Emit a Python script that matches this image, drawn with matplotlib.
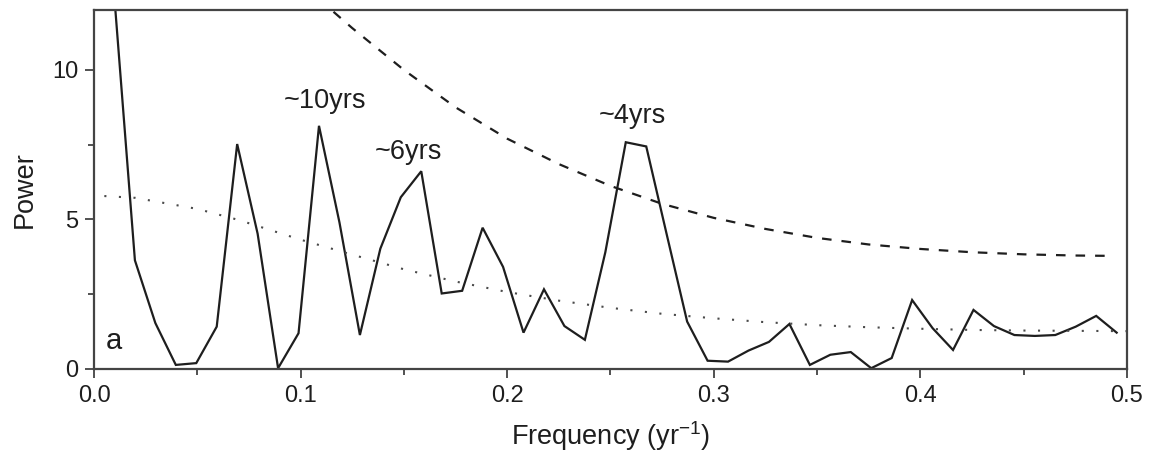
import numpy as np
import matplotlib
matplotlib.use("Agg")
import matplotlib.pyplot as plt

plt.rcParams["font.family"] = ["Liberation Sans", "DejaVu Sans"]

# Spectral estimate of a 101-year record (harmonics k/101, k = 1..50)
record_years = 101
harmonic = np.arange(1, 51)
power = [12.4, 3.63, 1.53, 0.13, 0.19, 1.41, 7.52, 4.52, 0.02, 1.19,
         8.13, 4.90, 1.13, 4.02, 5.74, 6.61, 2.52, 2.61, 4.72, 3.41,
         1.21, 2.66, 1.43, 0.97, 3.90, 7.58, 7.44, 4.50, 1.58, 0.27,
         0.24, 0.61, 0.90, 1.50, 0.13, 0.47, 0.56, 0.02, 0.36, 2.30,
         1.36, 0.63, 1.97, 1.43, 1.13, 1.10, 1.13, 1.41, 1.77, 1.21]

# Red-noise background spectrum
bg_freq = [0.005, 0.02, 0.05, 0.07, 0.10, 0.125, 0.15, 0.175, 0.20, 0.225,
           0.25, 0.275, 0.30, 0.325, 0.35, 0.375, 0.40, 0.425, 0.45, 0.475, 0.50]
bg_power = [5.78, 5.72, 5.35, 4.98, 4.32, 3.82, 3.33, 2.92, 2.57, 2.28,
            2.04, 1.84, 1.69, 1.56, 1.46, 1.39, 1.34, 1.30, 1.28, 1.27, 1.26]

# 95% confidence level
conf_freq = [0.10, 0.125, 0.15, 0.175, 0.20, 0.225, 0.25, 0.275, 0.30,
             0.325, 0.35, 0.375, 0.40, 0.425, 0.45, 0.475, 0.49]
conf_power = [12.9, 11.4, 10.0, 8.75, 7.70, 6.85, 6.12, 5.52, 5.05,
              4.68, 4.38, 4.16, 4.01, 3.90, 3.83, 3.79, 3.78]

# Peak labels
peak_labels = ["~10yrs", "~6yrs", "~4yrs"]
peak_label_pos = [(0.112, 8.95), (0.152, 7.25), (0.2605, 8.45)]

freq = harmonic / record_years

fig = plt.figure(figsize=(11.52, 4.61), dpi=100)
ax = fig.add_axes([0.0816, 0.2, 0.8966, 0.778])

ink = "#1e1e1e"
ax.plot(freq, power, color=ink, lw=1.6, solid_joinstyle="miter")
ax.plot(conf_freq, conf_power, color=ink, lw=1.6, linestyle=(0, (4.3, 4.5)))
ax.plot(bg_freq, bg_power, color="#4a4a4a", lw=1.5, linestyle=(0, (1, 6)))

for txt, (x, y) in zip(peak_labels, peak_label_pos):
    ax.text(x, y, txt, ha="center", va="center", fontsize=19.5, color=ink)

ax.text(0.0094, 0.92, "a", ha="center", va="center", fontsize=21, color=ink)

ax.set_xlim(0, 0.5)
ax.set_ylim(0, 12)
ax.set_xticks([0.0, 0.1, 0.2, 0.3, 0.4, 0.5])
ax.set_xticks(np.arange(0.05, 0.5, 0.1), minor=True)
ax.set_yticks([0, 5, 10])
ax.set_yticks([2.5, 7.5], minor=True)
ax.xaxis.set_major_formatter(matplotlib.ticker.FormatStrFormatter("%.1f"))

ax.tick_params(which="major", direction="out", length=6.5, width=1.2,
               labelsize=17, colors="#333333", labelcolor=ink, pad=5)
ax.tick_params(which="minor", direction="out", length=4, width=1.2,
               colors="#333333")
for s in ax.spines.values():
    s.set_linewidth(1.6)
    s.set_color("#444444")

ax.set_xlabel("Frequency (yr$^{\\mathregular{-1}}$)", fontsize=19.5, color=ink,
              labelpad=9)
ax.set_ylabel("Power", fontsize=19.5, color=ink, labelpad=10)

fig.savefig("out.png", dpi=100)
